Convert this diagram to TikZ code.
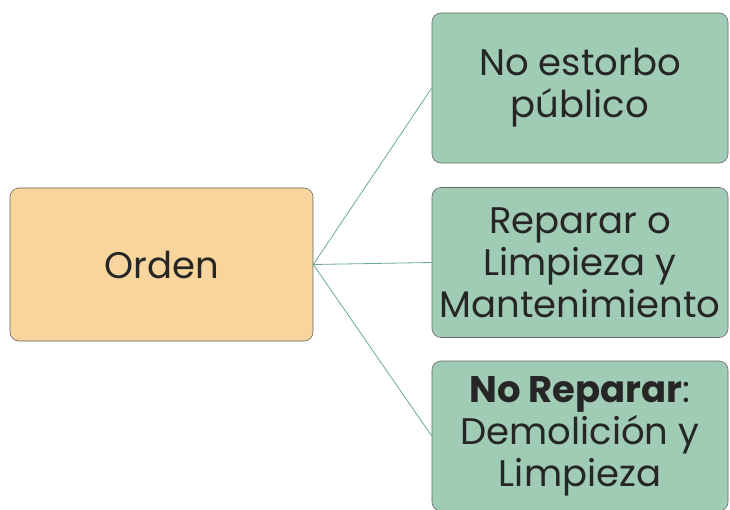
\documentclass[tikz,border=0pt]{standalone}
\usepackage{fontspec}
\setmainfont{Poppins}
\begin{document}
\begin{tikzpicture}[x=1pt,y=-1pt,
  box/.style={draw=black!60,line width=0.6pt,rounded corners=9pt,inner sep=0pt,align=center,font=\fontsize{37}{42}\selectfont,text=black!85},
  orange/.style={box,fill=orangefill,minimum width=303pt,minimum height=153pt},
  green/.style={box,fill=greenfill,minimum width=296pt,minimum height=150pt},
  link/.style={draw=linkcol,line width=0.8pt}]
\definecolor{orangefill}{HTML}{F7D59C}
\definecolor{greenfill}{HTML}{A0CCB6}
\definecolor{linkcol}{HTML}{6BAA92}
\useasboundingbox (0,0) rectangle (730,510);
\fill[white] (0,0) rectangle (730,510);
\node[orange] (o) at (161.5,264.5) {Orden};
\node[green] (a) at (580,88) {No estorbo\\público};
\node[green] (b) at (580,262.5) {Reparar o\\Limpieza y\\Mantenimiento};
\node[green] (c) at (580,436) {\textbf{No Reparar}:\\Demolición y\\Limpieza};
\draw[link] (o.east) -- (a.west);
\draw[link] (o.east) -- (b.west);
\draw[link] (o.east) -- (c.west);
\end{tikzpicture}
\end{document}
